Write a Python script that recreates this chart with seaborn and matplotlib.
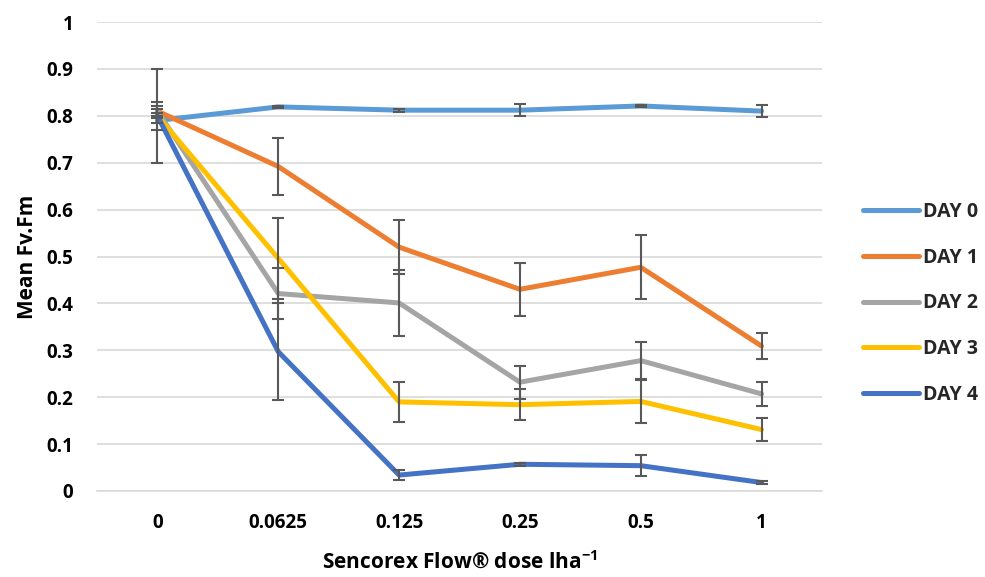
import numpy as np
import pandas as pd
import matplotlib
matplotlib.use("Agg")
import matplotlib.pyplot as plt
import seaborn as sns

doses = ["0", "0.0625", "0.125", "0.25", "0.5", "1"]
days = ["DAY 0", "DAY 1", "DAY 2", "DAY 3", "DAY 4"]

day0 = [0.790, 0.819, 0.812, 0.812, 0.821, 0.810]
day1 = [0.810, 0.692, 0.520, 0.430, 0.477, 0.309]
day2 = [0.810, 0.421, 0.401, 0.232, 0.278, 0.207]
day3 = [0.800, 0.496, 0.190, 0.184, 0.191, 0.131]
day4 = [0.800, 0.297, 0.034, 0.057, 0.054, 0.018]

err0 = [0.005, 0.002, 0.003, 0.013, 0.002, 0.012]
err1 = [0.005, 0.060, 0.058, 0.057, 0.068, 0.028]
err2 = [0.010, 0.055, 0.070, 0.035, 0.040, 0.026]
err3 = [0.030, 0.087, 0.043, 0.033, 0.046, 0.025]
err4 = [0.100, 0.103, 0.010, 0.003, 0.022, 0.003]

colors = ["#5B9BD5", "#ED7D31", "#A5A5A5", "#FFC000", "#4472C4"]

series = [day0, day1, day2, day3, day4]
errs = [err0, err1, err2, err3, err4]

rows = []
for d, vals in zip(days, series):
    for x, v in zip(doses, vals):
        rows.append({"dose": x, "value": v, "day": d})
df = pd.DataFrame(rows)

sns.set_theme(style="white")
plt.rcParams["font.family"] = ["Open Sans", "DejaVu Sans"]
plt.rcParams["mathtext.fontset"] = "custom"
plt.rcParams["mathtext.rm"] = "Open Sans"
plt.rcParams["mathtext.bf"] = "Open Sans:bold"

fig = plt.figure(figsize=(9.85, 5.77), dpi=100)
ax = fig.add_axes([97/985, 1 - 491/577, (822 - 97)/985, (491 - 22)/577])

sns.lineplot(data=df, x="dose", y="value", hue="day", palette=colors,
             linewidth=3.6, sort=False, ax=ax, legend=True, zorder=3,
             solid_capstyle="round")

xpos = np.arange(len(doses))
for vals, e in zip(series, errs):
    ax.errorbar(xpos, vals, yerr=e, fmt="none", ecolor="#595959",
                elinewidth=1.5, capsize=4.5, capthick=1.5, zorder=4)

ax.set_xlim(-0.5, len(doses) - 0.5)
ax.set_ylim(0, 1)
ax.set_yticks(np.arange(0, 1.01, 0.1))
ax.set_yticklabels(["0", "0.1", "0.2", "0.3", "0.4", "0.5", "0.6", "0.7", "0.8", "0.9", "1"])
ax.yaxis.grid(True, color="#D9D9D9", linewidth=1.2)
ax.set_axisbelow(True)
for s in ["top", "right", "left"]:
    ax.spines[s].set_visible(False)
ax.spines["bottom"].set_color("#D9D9D9")
ax.spines["bottom"].set_linewidth(1.2)
ax.tick_params(axis="both", length=0, labelsize=13.5, labelcolor="#000000")
ax.tick_params(axis="y", pad=17)
ax.tick_params(axis="x", pad=16)
for lab in ax.get_xticklabels() + ax.get_yticklabels():
    lab.set_fontweight("bold")

ax.set_xlabel("Sencorex Flow® dose lha$^{\\mathbf{-1}}$", fontsize=15,
              fontweight="bold", labelpad=13, color="#000000")
ax.set_ylabel("Mean Fv.Fm", fontsize=15, fontweight="bold", labelpad=6,
              color="#000000")

handles, labels = ax.get_legend_handles_labels()
ax.legend(handles, labels, loc="center left", bbox_to_anchor=(1.057, 0.40),
          frameon=False, prop={"weight": "bold", "size": 14},
          handlelength=2.85, handletextpad=0.2, labelspacing=1.33,
          borderaxespad=0, borderpad=0)
leg = ax.get_legend()
for line in leg.get_lines():
    line.set_linewidth(3.6)

fig.savefig("out.png", dpi=100)
